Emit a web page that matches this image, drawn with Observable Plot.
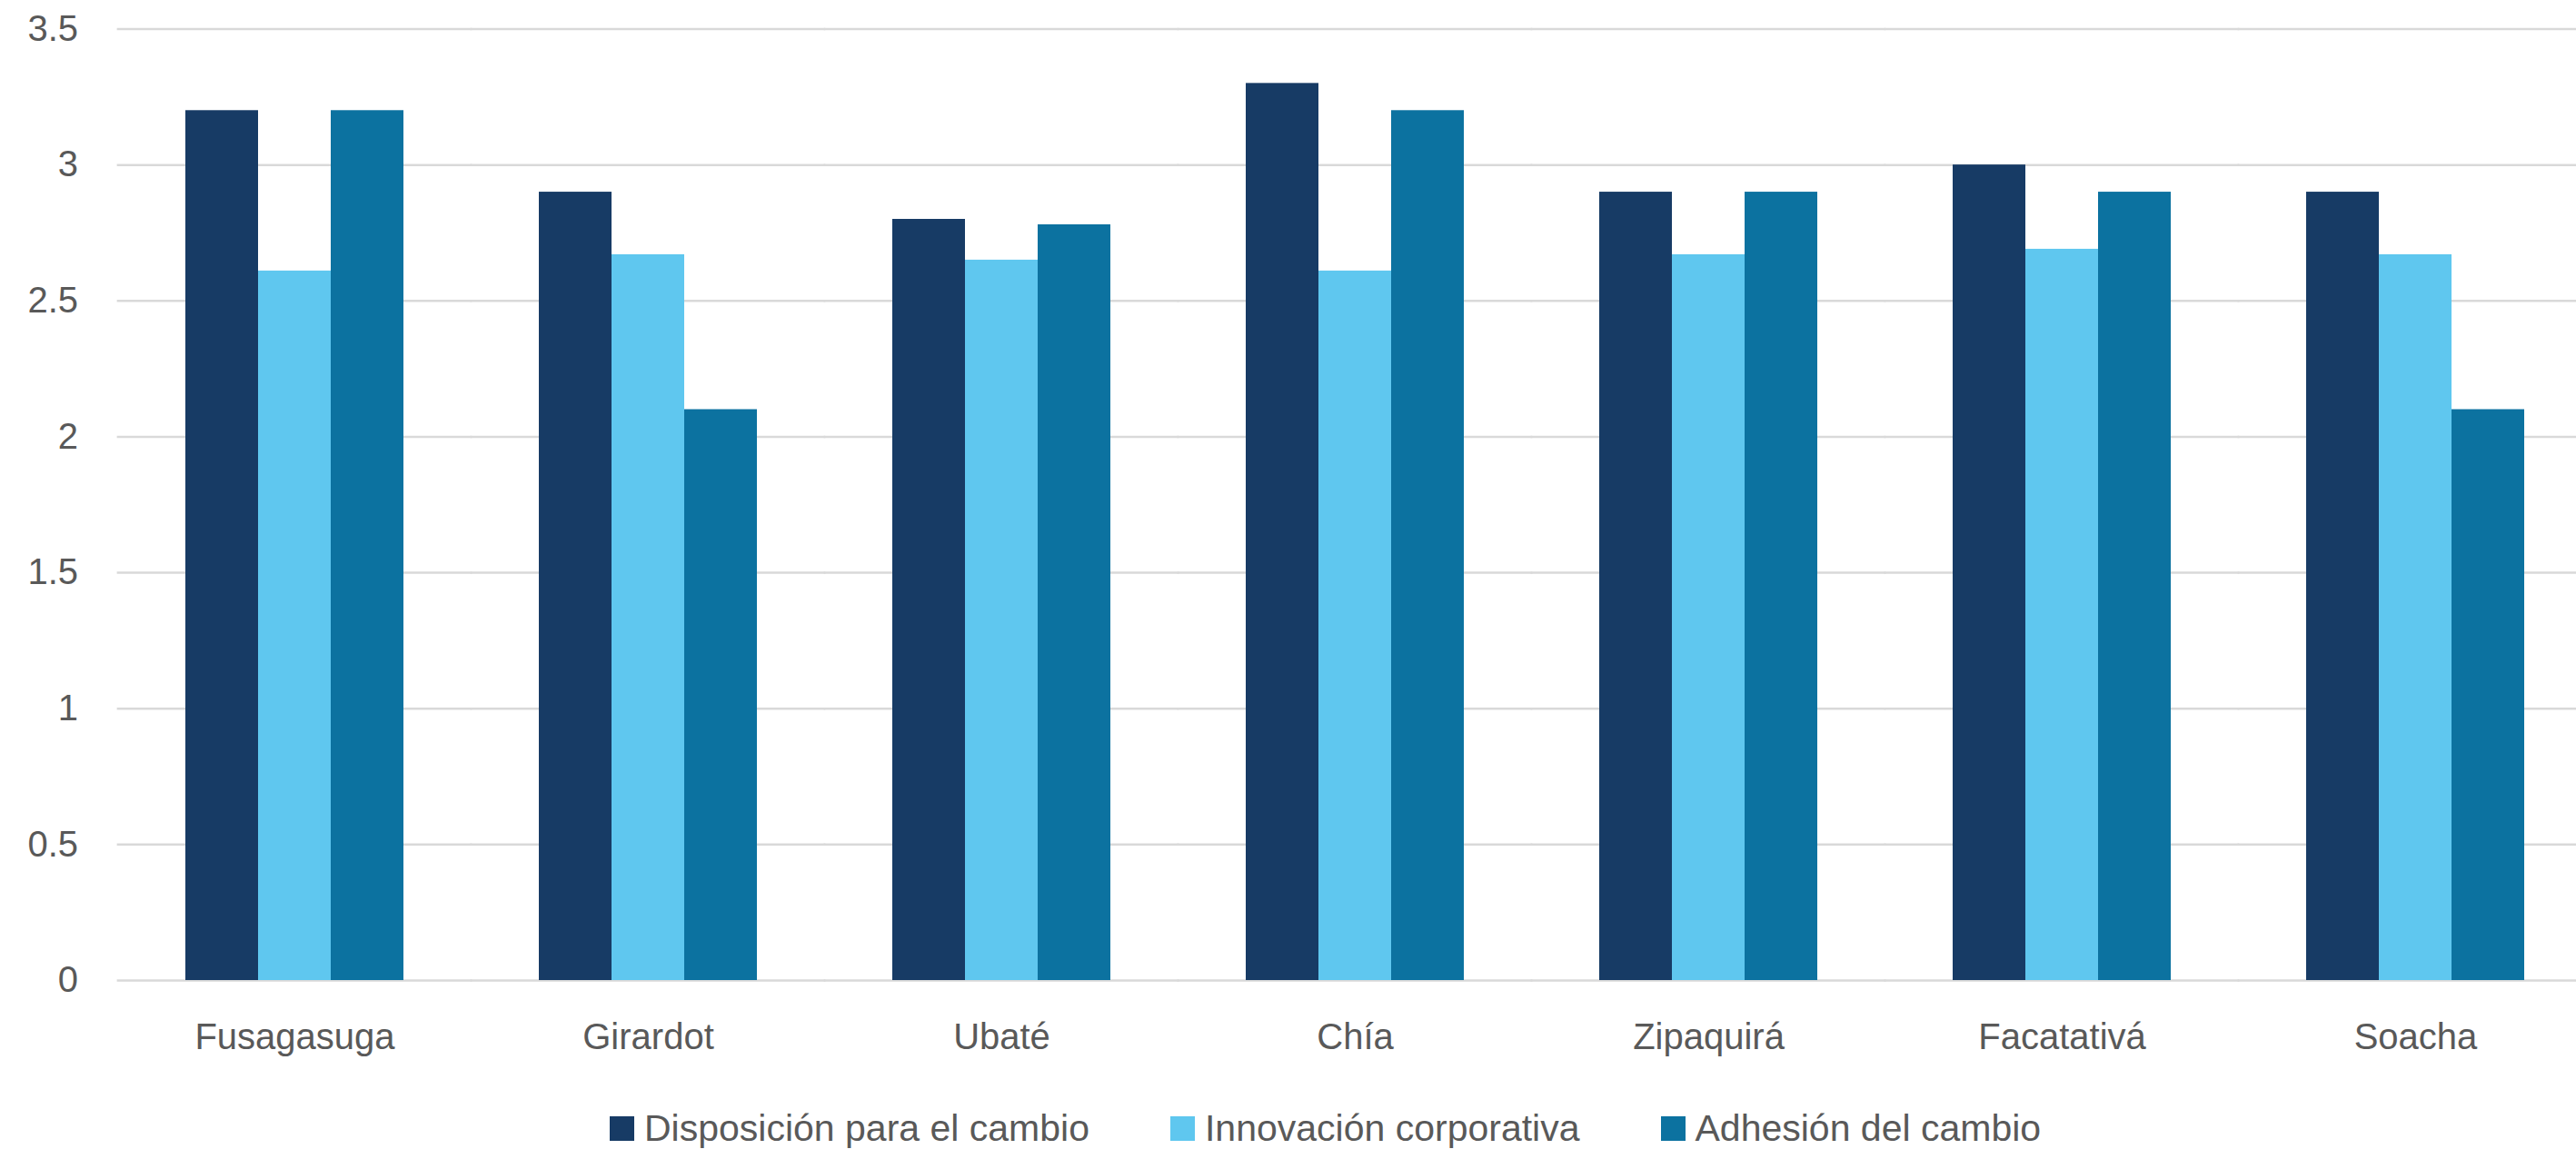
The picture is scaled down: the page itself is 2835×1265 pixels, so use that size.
<!DOCTYPE html>
<html>
<head>
<meta charset="utf-8">
<script src="https://cdn.jsdelivr.net/npm/d3@7"></script>
<script src="https://cdn.jsdelivr.net/npm/@observablehq/plot@0.6"></script>
<style>
  html, body { margin: 0; padding: 0; background: #ffffff; overflow: hidden; }
  #wrap { width: 2835px; height: 1265px; overflow: hidden; position: relative; font-family: "Liberation Sans", Arial, sans-serif; }
  #chart svg { display: block; max-width: none !important; }
  #legend { position: absolute; top: 1220px; left: 671px; height: 44px; display: flex; align-items: center; font-size: 41px; letter-spacing: 0px; color: #595959; white-space: nowrap; }
  .item { display: flex; align-items: center; margin-right: 89px; }
  .sw { width: 27px; height: 27px; margin-right: 11px; }
</style>
</head>
<body>
<div id="wrap">
  <div id="chart"></div>
  <div id="legend"></div>
</div>
<script>
const cities = ["Fusagasuga", "Girardot", "Ubaté", "Chía", "Zipaquirá", "Facatativá", "Soacha"];
const series = ["Disposición para el cambio", "Innovación corporativa", "Adhesión del cambio"];
const disposicion = [3.2, 2.9, 2.8, 3.3, 2.9, 3.0, 2.9];
const innovacion = [2.61, 2.67, 2.65, 2.61, 2.67, 2.69, 2.67];
const adhesion = [3.2, 2.1, 2.78, 3.2, 2.9, 2.9, 2.1];
const yTicks = [0, 0.5, 1, 1.5, 2, 2.5, 3, 3.5];
const colors = ["#173B65", "#5FC7EF", "#0C72A0"];

const valuesBySeries = [disposicion, innovacion, adhesion];
const data = [];
cities.forEach((c, i) => {
  series.forEach((s, j) => data.push({city: c, serie: s, value: valuesBySeries[j][i]}));
});

const W = 2854, ML = 129, PI = 0.377, PO = 0.1887;
const step = (W - ML) / (cities.length - PI + 2 * PO);
const gapHalf = step * PI / 2;

const chart = Plot.plot({
  width: W,
  height: 1200,
  marginTop: 31.5,
  marginBottom: 121,
  marginLeft: ML,
  marginRight: 0,
  style: {fontFamily: "'Liberation Sans', Arial, sans-serif", fontSize: "40px", color: "#595959", background: "#ffffff", maxWidth: "none"},
  fx: {domain: cities, paddingInner: PI, paddingOuter: PO, label: null},
  x: {domain: series, padding: 0, axis: null},
  y: {domain: [0, 3.5], axis: null},
  color: {domain: series, range: colors},
  marks: [
    Plot.ruleY(yTicks, {y: d => d, stroke: "#d9d9d9", strokeWidth: 2.5, insetLeft: -gapHalf - 1, insetRight: -gapHalf - 1}),
    Plot.barY(data, {fx: "city", x: "serie", y: "value", fill: "serie"}),
    Plot.axisY({ticks: yTicks, tickFormat: d => String(d), tickSize: 0, tickPadding: 44 + gapHalf, fill: "#595959", fontSize: 40, label: null}),
    Plot.axisFx({anchor: "bottom", tickSize: 0, tickPadding: 47, label: null, fill: "#595959", fontSize: 40})
  ]
});
document.getElementById("chart").appendChild(chart);

const legend = document.getElementById("legend");
series.forEach((s, i) => {
  const item = document.createElement("div");
  item.className = "item";
  const sw = document.createElement("div");
  sw.className = "sw";
  sw.style.background = colors[i];
  const t = document.createElement("span");
  t.textContent = s;
  item.appendChild(sw);
  item.appendChild(t);
  legend.appendChild(item);
});
</script>
</body>
</html>
